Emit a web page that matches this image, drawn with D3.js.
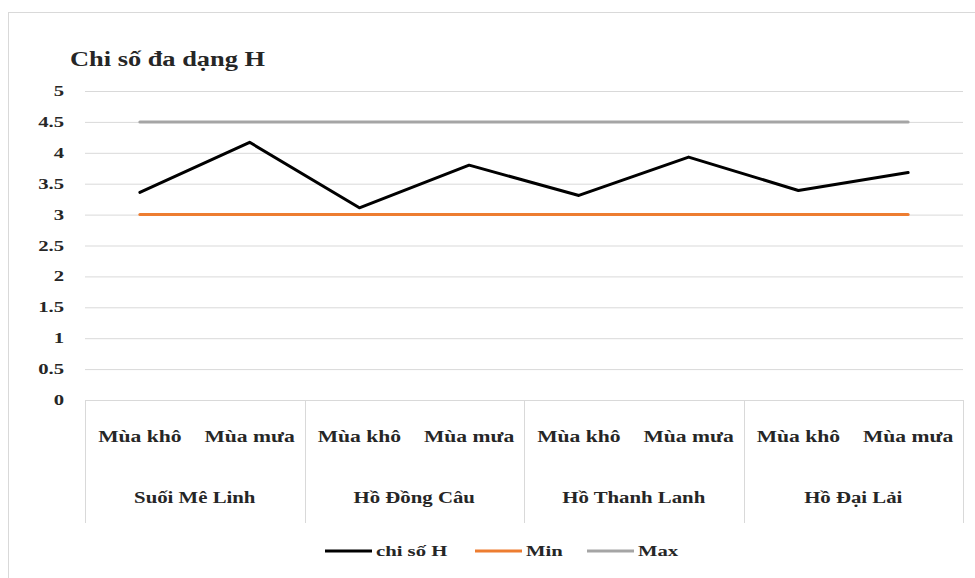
<!DOCTYPE html>
<html>
<head>
<meta charset="utf-8">
<script src="https://cdn.jsdelivr.net/npm/d3@7"></script>
<style>
	body { margin: 0; background: #fff; }
	svg text { font-family: 'Liberation Serif', 'Times New Roman', serif; fill: #262626; font-weight: bold; }
</style>
</head>
<body>
<div id="chart"></div>
<script>
// data
const groups = ['Suối Mê Linh', 'Hồ Đồng Câu', 'Hồ Thanh Lanh', 'Hồ Đại Lải'];
const seasons = ['Mùa khô', 'Mùa mưa'];
const hValues = [3.36, 4.17, 3.11, 3.80, 3.31, 3.93, 3.39, 3.68];
const minValues = [3, 3, 3, 3, 3, 3, 3, 3];
const maxValues = [4.5, 4.5, 4.5, 4.5, 4.5, 4.5, 4.5, 4.5];
const yTicks = [0, 0.5, 1, 1.5, 2, 2.5, 3, 3.5, 4, 4.5, 5];
const seriesNames = ['chi số H', 'Min', 'Max'];
const seriesColors = ['#000000', '#ed7d31', '#a5a5a5'];

const width = 975, height = 578;
const margin = { top: 91, right: 12, bottom: 178, left: 85 };
// the source picture is stretched sideways, so text is too
const stretch = 1.38;

const svg = d3.select('#chart').append('svg')
	.attr('width', width)
	.attr('height', height);

// chart frame
svg.append('rect')
	.attr('x', 8.5).attr('y', 12.5)
	.attr('width', 975).attr('height', 600)
	.attr('fill', '#fff')
	.attr('stroke', '#d9d9d9');

function putText(sel, x, y, sx) {
	return sel.attr('transform', `translate(${x},${y}) scale(${sx},1)`);
}

// categories (group x season)
const cats = [];
groups.forEach((g) => seasons.forEach((s) => cats.push({ group: g, season: s, key: g + '|' + s })));

const x = d3.scaleBand()
	.domain(cats.map((d) => d.key))
	.range([margin.left, width - margin.right]);

const y = d3.scaleLinear()
	.domain([0, 5])
	.range([height - margin.bottom, margin.top]);

// title
putText(svg.append('text'), 70, 66, 1.2)
	.style('font-size', '22px')
	.text('Chi số đa dạng H');

// gridlines
const yAxis = d3.axisLeft(y).tickValues(yTicks).tickSize(-(x.range()[1] - x.range()[0])).tickFormat('');
const gy = svg.append('g')
	.attr('transform', `translate(${margin.left},0)`)
	.call(yAxis);
gy.select('.domain').remove();
gy.selectAll('.tick line').attr('stroke', '#d9d9d9').attr('stroke-width', 1);
gy.selectAll('.tick text').remove();

// y labels
svg.selectAll('.y-label')
	.data(yTicks)
	.enter()
	.append('text')
	.attr('class', 'y-label')
	.each(function (d) {
		putText(d3.select(this), 64, y(d) + 5, stretch);
	})
	.attr('text-anchor', 'end')
	.style('font-size', '15px')
	.text((d) => d);

// category axis with separators
const axisY = y(0);
svg.append('line')
	.attr('x1', x.range()[0]).attr('x2', x.range()[1])
	.attr('y1', axisY + 0.5).attr('y2', axisY + 0.5)
	.attr('stroke', '#d9d9d9');

const groupBand = d3.scaleBand().domain(groups).range(x.range());
const seps = groups.map((g) => groupBand(g)).concat([x.range()[1]]);
svg.selectAll('.sep')
	.data(seps)
	.enter()
	.append('line')
	.attr('class', 'sep')
	.attr('x1', (d) => Math.round(d) + 0.5).attr('x2', (d) => Math.round(d) + 0.5)
	.attr('y1', axisY).attr('y2', axisY + 123)
	.attr('stroke', '#d9d9d9');

svg.selectAll('.cat-label')
	.data(cats)
	.enter()
	.append('text')
	.attr('class', 'cat-label')
	.each(function (d) {
		putText(d3.select(this), x(d.key) + x.bandwidth() / 2, axisY + 42, 1.35);
	})
	.attr('text-anchor', 'middle')
	.style('font-size', '16px')
	.text((d) => d.season);

svg.selectAll('.group-label')
	.data(groups)
	.enter()
	.append('text')
	.attr('class', 'group-label')
	.each(function (d) {
		putText(d3.select(this), groupBand(d) + groupBand.bandwidth() / 2, axisY + 103, 1.3);
	})
	.attr('text-anchor', 'middle')
	.style('font-size', '16px')
	.text((d) => d);

// lines
const line = d3.line()
	.x((d, i) => x(cats[i].key) + x.bandwidth() / 2)
	.y((d) => y(d));

const series = [maxValues, minValues, hValues];
const order = [2, 1, 0];
series.forEach((vals, k) => {
	svg.append('path')
		.datum(vals)
		.attr('d', line)
		.attr('fill', 'none')
		.attr('stroke', seriesColors[order[k]])
		.attr('stroke-width', 3)
		.attr('stroke-linejoin', 'round')
		.attr('stroke-linecap', 'round');
});

// legend
const legendX = [325, 475, 587];
const legendY = 551;
seriesNames.forEach((name, i) => {
	const lg = svg.append('g').attr('transform', `translate(${legendX[i]}, ${legendY})`);
	lg.append('line')
		.attr('x1', 0).attr('x2', 47)
		.attr('y1', 0).attr('y2', 0)
		.attr('stroke', seriesColors[i])
		.attr('stroke-width', 3);
	putText(lg.append('text'), 51, 5, stretch)
		.style('font-size', '15px')
		.text(name);
});
</script>
</body>
</html>
